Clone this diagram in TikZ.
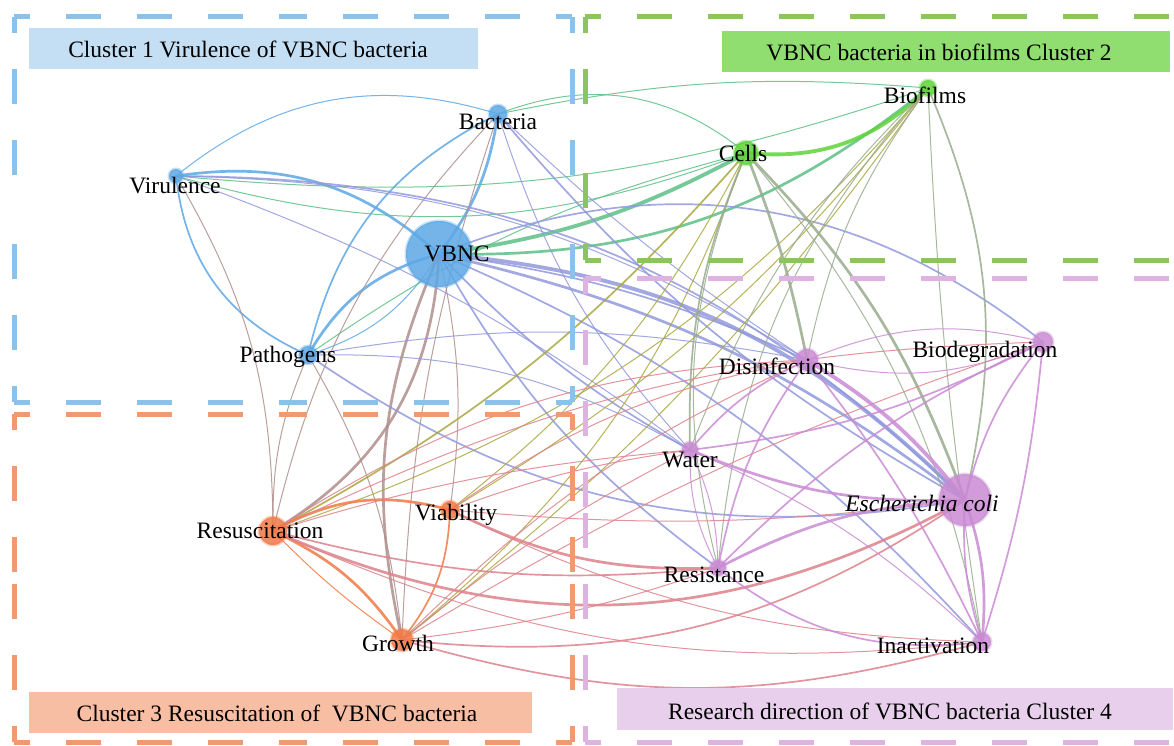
\documentclass[tikz,border=0pt]{standalone}
\usepackage{fontspec}
\setmainfont{Liberation Serif}
\usetikzlibrary{calc}
\definecolor{cB}{HTML}{5CA8E6}
\definecolor{cG}{HTML}{5FD43A}
\definecolor{cO}{HTML}{F27A45}
\definecolor{cP}{HTML}{C98BD3}
\definecolor{dB}{HTML}{8CC2EA}
\definecolor{dG}{HTML}{8CC460}
\definecolor{dO}{HTML}{F09A74}
\definecolor{dP}{HTML}{DEB3E2}
\definecolor{fB}{HTML}{C4DFF4}
\definecolor{fG}{HTML}{90DD70}
\definecolor{fO}{HTML}{F8BEA4}
\definecolor{fP}{HTML}{E8D0EC}
\pgfdeclarelayer{bg}
\pgfdeclarelayer{edges}
\pgfsetlayers{bg,edges,main}
\newcommand\dside[3]{\draw[#1] (#2) -- ($(#2)!0.5!(#3)$);\draw[#1] (#3) -- ($(#2)!0.5!(#3)$);}
\begin{document}
\begin{tikzpicture}[x=1pt,y=-1pt,
  L/.style={bend left=#1}, R/.style={bend right=#1},
  e/.style={line cap=round, draw opacity=0.85},
  bb/.style={e, draw=cB}, bg/.style={e, draw=cB!45!cG}, bo/.style={e, draw=cB!45!cO},
  bp/.style={e, draw=cB!50!cP}, gg/.style={e, draw=cG}, go/.style={e, draw=cG!50!cO},
  gp/.style={e, draw=cG!45!cP}, oo/.style={e, draw=cO}, op/.style={e, draw=cO!50!cP},
  pp/.style={e, draw=cP},
  w1/.style={line width=1}, w2/.style={line width=1.7}, w3/.style={line width=2.7}, w4/.style={line width=3.8},
  dsh/.style={line width=5, dash pattern=on 35 off 36, dash phase=19},
  nd/.style={circle, inner sep=0pt, fill=#1, fill opacity=0.85, draw=#1, draw opacity=0.35, line width=3},
  lbl/.style={font=\fontsize{23.5}{26}\selectfont, inner sep=0pt, text=black}]
\clip (0,0) rectangle (1174,746);
\useasboundingbox (0,0) rectangle (1174,746);
\begin{pgfonlayer}{bg}
\fill[white] (0,0) rectangle (1174,746);
\end{pgfonlayer}
% dashed cluster frames
\dside{dsh,draw=dB}{14,17}{572,17}
\dside{dsh,draw=dB}{572,17}{572,402}
\dside{dsh,draw=dB}{572,402}{14,402}
\dside{dsh,draw=dB}{14,402}{14,17}
\dside{dsh,draw=dO}{14,414}{572,414}
\dside{dsh,draw=dO}{572,414}{572,742}
\dside{dsh,draw=dO}{572,742}{14,742}
\dside{dsh,draw=dO}{14,742}{14,414}
\draw[dsh,draw=dG] (585,17) -- (1190,17);
\draw[dsh,draw=dG] (585,260) -- (1190,260);
\dside{dsh,draw=dG}{585,260}{585,17}
\draw[dsh,draw=dP] (585,278) -- (1190,278);
\draw[dsh,draw=dP] (585,742) -- (1190,742);
\dside{dsh,draw=dP}{585,742}{585,278}
% cluster label boxes
\fill[fB] (29,28) rectangle (478,69);
\fill[fG] (722,31) rectangle (1170,72);
\fill[fO] (29,692) rectangle (532,733);
\fill[fP] (617,688) rectangle (1173,730);
\node[lbl] (c1) at (248,49) {Cluster 1 Virulence of VBNC bacteria};
\node[lbl] (c2) at (939,52) {VBNC bacteria in biofilms Cluster 2};
\node[lbl] (c3) at (277,713) {Cluster 3 Resuscitation of\ \ VBNC bacteria};
\node[lbl] (c4) at (890,711) {Research direction of VBNC bacteria Cluster 4};
% keyword nodes
\node[nd=cB, minimum size=14] (vir) at (176,176) {};
\node[nd=cB, minimum size=18] (bac) at (498,114) {};
\node[nd=cB, minimum size=66] (vbnc) at (439,254) {};
\node[nd=cB, minimum size=18] (pat) at (308,355) {};
\node[nd=cG, minimum size=24] (cel) at (746,153) {};
\node[nd=cG, minimum size=16] (bio) at (928,88) {};
\node[nd=cP, minimum size=22] (dis) at (807,360) {};
\node[nd=cP, minimum size=20] (bdg) at (1043,342) {};
\node[nd=cP, minimum size=16] (wat) at (690,450) {};
\node[nd=cP, minimum size=52] (eco) at (965,500) {};
\node[nd=cP, minimum size=16] (res) at (718,568) {};
\node[nd=cP, minimum size=18] (ina) at (982,642) {};
\node[nd=cO, minimum size=28] (rsc) at (273,531) {};
\node[nd=cO, minimum size=18] (via) at (450,510) {};
\node[nd=cO, minimum size=22] (gro) at (402,640) {};
% labels
\node[lbl] (virL) at (175,186) {Virulence};
\node[lbl] (bacL) at (498,122) {Bacteria};
\node[lbl] (vbncL) at (457,254) {VBNC};
\node[lbl] (patL) at (288,357) {Pathogens};
\node[lbl] (celL) at (743,153) {Cells};
\node[lbl] (bioL) at (925,95) {Biofilms};
\node[lbl] (disL) at (777,366) {Disinfection};
\node[lbl] (bdgL) at (985,352) {Biodegradation};
\node[lbl] (watL) at (690,460) {Water};
\node[lbl] (ecoL) at (922,503) {\itshape Escherichia coli};
\node[lbl] (resL) at (714,575) {Resistance};
\node[lbl] (inaL) at (933,646) {Inactivation};
\node[lbl] (rscL) at (260,531) {Resuscitation};
\node[lbl] (viaL) at (456,515) {Viability};
\node[lbl] (groL) at (398,643) {Growth};
\begin{pgfonlayer}{edges}
% blue-blue
\draw[bb,w1] (vir.center) to[L=28] (bac.center);
\draw[bb,w3] (vir.center) to[L=25] (vbnc.center);
\draw[bb,w2] (vir.center) to[R=30] (pat.center);
\draw[bb,w3] (bac.center) to[L=14] (vbnc.center);
\draw[bb,w2] (bac.center) to[R=25] (pat.center);
\draw[bb,w3] (vbnc.center) to[R=22] (pat.center);
\draw[bb,w1] (vbnc.center) to[L=20] (pat.center);
% blue-green
\draw[bg,w1] (vir.center) to[R=18] (cel.center);
\draw[bg,w1] (vir.center) to[R=12] (bio.center);
\draw[bg,w1] (bac.center) to[L=30] (cel.center);
\draw[bg,w1] (bac.center) to[L=8] (bio.center);
\draw[bg,w4] (vbnc.center) to[R=10] (cel.center);
\draw[bg,w3] (vbnc.center) to[R=20] (bio.center);
\draw[bg,w1] (pat.center) to[L=10] (cel.center);
% blue-orange
\draw[bo,w1] (vir.center) to[L=15] (rsc.center);
\draw[bo,w1] (bac.center) to[R=15] (rsc.center);
\draw[bo,w1] (bac.center) to[R=8] (gro.center);
\draw[bo,w3] (vbnc.center) to[L=28] (rsc.center);
\draw[bo,w3] (vbnc.center) to[R=18] (gro.center);
\draw[bo,w1] (vbnc.center) to[L=10] (via.center);
\draw[bo,w1] (pat.center) to[R=12] (rsc.center);
\draw[bo,w1] (pat.center) to[L=12] (gro.center);
% blue-purple
\draw[bp,w2] (vir.center) to[L=22] (eco.center);
\draw[bp,w1] (vir.center) to[L=15] (dis.center);
\draw[bp,w1] (vir.center) to[L=8] (wat.center);
\draw[bp,w2] (bac.center) to[R=10] (eco.center);
\draw[bp,w1] (bac.center) to[R=5] (dis.center);
\draw[bp,w1] (bac.center) to[R=12] (wat.center);
\draw[bp,w4] (vbnc.center) to[L=20] (eco.center);
\draw[bp,w3] (vbnc.center) to[L=12] (eco.center);
\draw[bp,w2] (vbnc.center) to[L=8] (dis.center);
\draw[bp,w2] (vbnc.center) to[R=8] (wat.center);
\draw[bp,w2] (vbnc.center) to[R=12] (res.center);
\draw[bp,w2] (vbnc.center) to[L=12] (ina.center);
\draw[bp,w2] (vbnc.center) to[L=30] (bdg.center);
\draw[bp,w2] (pat.center) to[R=22] (eco.center);
\draw[bp,w1] (pat.center) to[L=15] (wat.center);
\draw[bp,w1] (pat.center) to[L=10] (dis.center);
% green-green
\draw[gg,w4] (cel.center) to[R=25] (bio.center);
% green-orange
\draw[go,w2] (cel.center) to[L=10] (rsc.center);
\draw[go,w1] (cel.center) to[L=12] (via.center);
\draw[go,w1] (cel.center) to[L=15] (gro.center);
\draw[go,w1] (bio.center) to[L=15] (rsc.center);
\draw[go,w1] (bio.center) to[L=10] (via.center);
\draw[go,w1] (bio.center) to[L=8] (gro.center);
% green-purple
\draw[gp,w3] (cel.center) to[L=5] (dis.center);
\draw[gp,w3] (cel.center) to[L=12] (eco.center);
\draw[gp,w2] (cel.center) to[R=12] (wat.center);
\draw[gp,w1] (cel.center) to[R=18] (res.center);
\draw[gp,w1] (cel.center) to[L=14] (ina.center);
\draw[gp,w1] (bio.center) to[R=12] (dis.center);
\draw[gp,w2] (bio.center) to[L=18] (eco.center);
\draw[gp,w1] (bio.center) to[R=12] (wat.center);
\draw[gp,w1] (bio.center) to[R=3] (ina.center);
\draw[gp,w1] (bio.center) to[R=18] (res.center);
% orange-orange
\draw[oo,w3] (rsc.center) to[L=22] (via.center);
\draw[oo,w3] (rsc.center) to[L=15] (gro.center);
\draw[oo,w1] (rsc.center) to[R=5] (gro.center);
\draw[oo,w2] (via.center) to[L=18] (gro.center);
% orange-purple
\draw[op,w3] (rsc.center) to[R=26] (eco.center);
\draw[op,w2] (rsc.center) to[R=10] (res.center);
\draw[op,w1] (rsc.center) to[L=6] (wat.center);
\draw[op,w1] (rsc.center) to[R=15] (ina.center);
\draw[op,w1] (rsc.center) to[L=15] (dis.center);
\draw[op,w1] (rsc.center) to[L=12] (bdg.center);
\draw[op,w3] (via.center) to[R=14] (res.center);
\draw[op,w1] (via.center) to[R=6] (eco.center);
\draw[op,w1] (via.center) to[L=6] (wat.center);
\draw[op,w1] (via.center) to[R=12] (ina.center);
\draw[op,w1] (via.center) to[L=12] (dis.center);
\draw[op,w2] (gro.center) to[R=20] (eco.center);
\draw[op,w2] (gro.center) to[R=16] (ina.center);
\draw[op,w1] (gro.center) to[R=6] (res.center);
\draw[op,w1] (gro.center) to[L=6] (wat.center);
\draw[op,w1] (gro.center) to[L=10] (dis.center);
\draw[op,w1] (gro.center) to[L=6] (bdg.center);
% purple-purple
\draw[pp,w4] (dis.center) to[L=10] (eco.center);
\draw[pp,w2] (dis.center) to[R=12] (wat.center);
\draw[pp,w2] (dis.center) to[R=12] (res.center);
\draw[pp,w2] (dis.center) to[L=6] (ina.center);
\draw[pp,w1] (dis.center) to[L=18] (bdg.center);
\draw[pp,w1] (dis.center) to[R=18] (bdg.center);
\draw[pp,w2] (bdg.center) to[R=12] (eco.center);
\draw[pp,w2] (bdg.center) to[L=10] (wat.center);
\draw[pp,w2] (bdg.center) to[R=10] (res.center);
\draw[pp,w2] (bdg.center) to[L=6] (ina.center);
\draw[pp,w3] (wat.center) to[R=12] (eco.center);
\draw[pp,w1] (wat.center) to[L=12] (res.center);
\draw[pp,w1] (wat.center) to[R=14] (res.center);
\draw[pp,w1] (wat.center) to[L=10] (ina.center);
\draw[pp,w3] (res.center) to[L=12] (eco.center);
\draw[pp,w2] (res.center) to[R=22] (ina.center);
\draw[pp,w3] (eco.center) to[L=12] (ina.center);
\draw[pp,w2] (eco.center) to[R=10] (ina.center);
\end{pgfonlayer}
\end{tikzpicture}
\end{document}
